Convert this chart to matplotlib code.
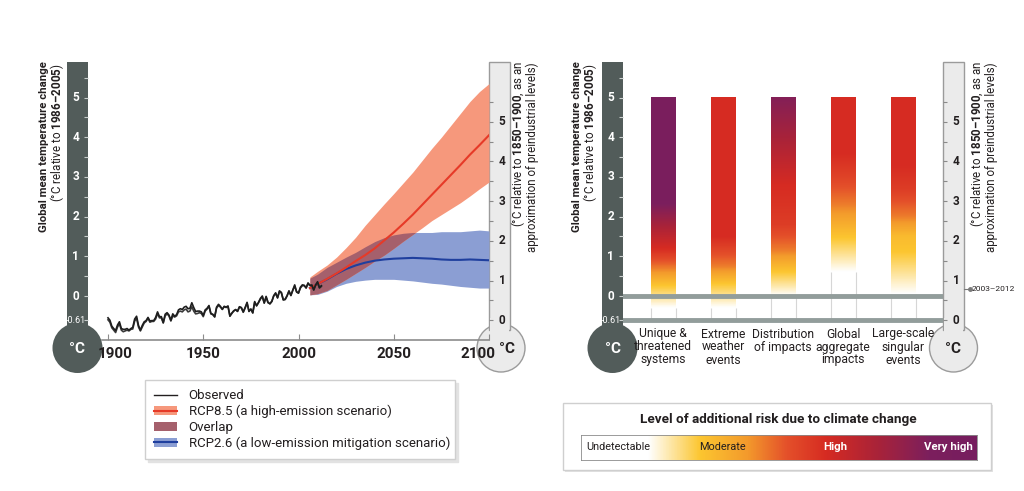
import numpy as np
import matplotlib
matplotlib.use('Agg')
import matplotlib.pyplot as plt
from matplotlib.colors import LinearSegmentedColormap
from matplotlib.patches import Rectangle, Circle, Patch
from matplotlib.lines import Line2D
from matplotlib.legend_handler import HandlerTuple
from matplotlib.transforms import ScaledTranslation

# ---------------- data ----------------
obs_years = np.arange(1900, 2013)
obs_a = [-0.55, -0.61, -0.76, -0.82, -0.87, -0.73, -0.65, -0.82, -0.84, -0.84,
         -0.82, -0.86, -0.82, -0.79, -0.58, -0.51, -0.74, -0.86, -0.74, -0.65,
         -0.62, -0.54, -0.63, -0.62, -0.62, -0.54, -0.40, -0.52, -0.52, -0.67,
         -0.46, -0.42, -0.48, -0.61, -0.45, -0.51, -0.47, -0.35, -0.32, -0.34,
         -0.28, -0.26, -0.32, -0.31, -0.17, -0.29, -0.39, -0.38, -0.38, -0.40,
         -0.49, -0.35, -0.31, -0.24, -0.44, -0.46, -0.52, -0.28, -0.21, -0.26,
         -0.34, -0.26, -0.28, -0.25, -0.51, -0.43, -0.38, -0.34, -0.39, -0.27,
         -0.29, -0.40, -0.29, -0.16, -0.39, -0.33, -0.42, -0.14, -0.25, -0.16,
         -0.06, 0.00, -0.18, -0.01, -0.16, -0.20, -0.14, 0.01, 0.08, -0.05,
         0.13, 0.09, -0.10, -0.09, 0.00, 0.13, 0.01, 0.15, 0.28, 0.10,
         0.07, 0.22, 0.28, 0.27, 0.20, 0.33, 0.27, 0.27, 0.15, 0.28,
         0.36, 0.21, 0.26]
obs_b = [-0.60, -0.66, -0.80, -0.86, -0.92, -0.78, -0.70, -0.86, -0.90, -0.88,
         -0.86, -0.88, -0.84, -0.83, -0.63, -0.56, -0.78, -0.88, -0.78, -0.68,
         -0.64, -0.56, -0.66, -0.64, -0.64, -0.58, -0.44, -0.55, -0.55, -0.68,
         -0.50, -0.45, -0.50, -0.63, -0.50, -0.53, -0.50, -0.40, -0.38, -0.40,
         -0.35, -0.33, -0.40, -0.38, -0.27, -0.38, -0.45, -0.44, -0.42, -0.44,
         -0.52, -0.38, -0.33, -0.26, -0.45, -0.47, -0.53, -0.30, -0.24, -0.28,
         -0.33, -0.27, -0.29, -0.27, -0.50, -0.44, -0.37, -0.35, -0.38, -0.28,
         -0.30, -0.41, -0.30, -0.18, -0.38, -0.33, -0.43, -0.16, -0.24, -0.17,
         -0.08, -0.02, -0.17, -0.03, -0.17, -0.19, -0.13, 0.00, 0.06, -0.04,
         0.11, 0.08, -0.09, -0.08, 0.01, 0.12, 0.02, 0.14, 0.25, 0.11,
         0.08, 0.20, 0.26, 0.26, 0.21, 0.31, 0.26, 0.28, 0.16, 0.27,
         0.33, 0.20, 0.24]

proj_years = [2006, 2010, 2015, 2020, 2025, 2030, 2035, 2040, 2045, 2050,
              2055, 2060, 2065, 2070, 2075, 2080, 2085, 2090, 2095, 2100]
rcp85_mean = [0.20, 0.30, 0.43, 0.57, 0.72, 0.88, 1.03, 1.20, 1.40, 1.60,
              1.82, 2.05, 2.30, 2.55, 2.80, 3.05, 3.30, 3.56, 3.80, 4.05]
rcp85_low = [0.03, 0.06, 0.14, 0.28, 0.42, 0.57, 0.72, 0.88, 1.03, 1.20,
             1.38, 1.55, 1.72, 1.90, 2.05, 2.20, 2.35, 2.52, 2.70, 2.87]
rcp85_high = [0.48, 0.62, 0.78, 0.98, 1.22, 1.48, 1.78, 2.05, 2.32, 2.58,
              2.85, 3.12, 3.42, 3.72, 4.00, 4.30, 4.60, 4.90, 5.15, 5.35]
rcp26_mean = [0.20, 0.30, 0.42, 0.56, 0.68, 0.77, 0.84, 0.89, 0.92, 0.94,
              0.95, 0.96, 0.95, 0.94, 0.92, 0.91, 0.91, 0.92, 0.91, 0.90]
rcp26_low = [0.03, 0.04, 0.12, 0.24, 0.32, 0.37, 0.40, 0.42, 0.42, 0.42,
             0.40, 0.38, 0.35, 0.32, 0.30, 0.27, 0.24, 0.22, 0.20, 0.20]
rcp26_high = [0.45, 0.55, 0.72, 0.85, 0.98, 1.10, 1.24, 1.37, 1.47, 1.54,
              1.58, 1.60, 1.60, 1.60, 1.62, 1.62, 1.62, 1.64, 1.66, 1.64]

year_ticks = [1900, 1950, 2000, 2050, 2100]
scale_ticks = [0, 1, 2, 3, 4, 5]
preind_offset = 0.61          # 1850-1900 relative to 1986-2005
recent_2003_2012 = 0.78       # relative to 1850-1900

systems = ['Unique &\nthreatened\nsystems', 'Extreme\nweather\nevents',
           'Distribution\nof impacts', 'Global\naggregate\nimpacts',
           'Large-scale\nsingular\nevents']
# temperature (rel. 1986-2005) where risk level reached: 0 undetectable .. 3 very high
risk_temps = [[-0.30, 0.25, 0.70, 1.20, 2.40],
              [-0.30, 0.30, 0.75, 1.50],
              [0.00, 0.60, 1.15, 1.80, 2.80, 3.80, 5.00],
              [0.60, 1.45, 2.30, 3.00, 3.60],
              [0.05, 1.10, 1.50, 2.00, 2.70, 3.30]]
risk_levels = [[0, 1, 1.5, 2, 3],
               [0, 1, 1.5, 2],
               [0, 1, 1.5, 1.85, 2, 2.4, 2.85],
               [0, 1, 1.5, 1.8, 2],
               [0, 1, 1.1, 1.5, 1.85, 2]]
bar_top = 5

# ---------------- style ----------------
FAMILY = 'Roboto'
plt.rcParams['font.family'] = [FAMILY, 'DejaVu Sans']
plt.rcParams['mathtext.fontset'] = 'custom'
plt.rcParams['mathtext.rm'] = FAMILY
plt.rcParams['mathtext.bf'] = FAMILY + ':bold'
plt.rcParams['mathtext.it'] = FAMILY

TXT = '#231f20'
DARK = '#525c5a'
LIGHT = '#ebebeb'
EDGE = '#9b9b9b'
GRAYLINE = '#929d9b'
RED_BAND = '#f6987c'
RED_LINE = '#e63a28'
BLUE_BAND = '#8b9ed3'
BLUE_LINE = '#1f3f9e'
OVERLAP = '#a5606c'

risk_cmap = LinearSegmentedColormap.from_list('risk', [
    (0.0, '#ffffff'), (0.17, '#ffffff'), (0.30, '#fcc630'), (0.42, '#f39a2c'),
    (0.52, '#e4502a'), (0.62, '#d62b22'), (0.75, '#a92339'), (0.88, '#7c1f5d'),
    (1.0, '#761d5f')])
level_pos = [0.17, 0.30, 0.62, 0.90]

W, H = 1024, 491
Y0PX, PPD, TOP, BOT = 296, 39.7, 62, 340
YLIM = ((Y0PX - BOT) / PPD, (Y0PX - TOP) / PPD)

fig = plt.figure(figsize=(W / 100, H / 100), dpi=100)


def fax(x0, y0, x1, y1):
    return fig.add_axes([x0 / W, 1 - y1 / H, (x1 - x0) / W, (y1 - y0) / H])


deco = fax(0, 0, W, H)
deco.set_xlim(0, W)
deco.set_ylim(H, 0)
deco.axis('off')


def thermometer(x0, dark, bulb_x=None, unit_dx=0):
    xc = x0 + 10.5 if bulb_x is None else bulb_x
    if dark:
        deco.add_patch(Rectangle((x0, TOP), 21, 348 - TOP, fc=DARK, ec='none'))
        deco.add_patch(Circle((xc, 348), 25, fc=DARK, ec='none'))
        deco.text(xc, 349, '°C', color='white', fontsize=11, fontweight='bold',
                  ha='center', va='center')
    else:
        deco.add_patch(Circle((xc, 348), 24, fc=LIGHT, ec=EDGE, lw=1))
        deco.add_patch(Rectangle((x0, TOP), 21, 330 - TOP, fc=LIGHT, ec=EDGE, lw=1))
        deco.add_patch(Rectangle((x0 + 0.7, 318), 19.6, 16, fc=LIGHT, ec='none'))
        deco.text(xc + unit_dx, 349, '°C', color=TXT, fontsize=11, fontweight='bold',
                  ha='center', va='center')
    t = fax(x0, TOP, x0 + 21, BOT)
    t.patch.set_alpha(0)
    t.set_xticks([])
    for s in t.spines.values():
        s.set_visible(False)
    tick_col = '#c9cecd' if dark else '#8a8a8a'
    if dark:
        t.set_ylim(YLIM)
        t.yaxis.tick_right()
        t.set_yticks([-preind_offset] + scale_ticks)
    else:
        t.set_ylim(YLIM[0] + preind_offset, YLIM[1] + preind_offset)
        t.yaxis.tick_left()
        t.set_yticks(scale_ticks)
    t.set_yticks([v + 0.5 for v in scale_ticks], minor=True)
    t.tick_params(axis='y', which='both', direction='in', length=3, width=0.8,
                  colors=tick_col, labelleft=False, labelright=False)
    lab_x, lab_col = (0.42, 'white') if dark else (0.62, TXT)
    for v in scale_ticks:
        t.text(lab_x, v, str(v), transform=t.get_yaxis_transform(), color=lab_col,
               fontsize=8.5, fontweight='bold', ha='center', va='center')
    if dark:
        t.text(0.40, -preind_offset, '-0.61', transform=t.get_yaxis_transform(),
               color='white', fontsize=6.5, ha='center', va='center')
    return t


def left_label(x, y=61):
    deco.text(x, y, 'Global mean temperature change', rotation=90, ha='center',
              va='top', fontsize=8.2, fontweight='bold', color=TXT)
    deco.text(x + 13, y + 2, r'(°C relative to $\mathbf{1986–2005}$)', rotation=90,
              ha='center', va='top', fontsize=8.4, color=TXT)


def right_label(x, y=61):
    deco.text(x, y, r'(°C relative to $\mathbf{1850–1900}$, as an', rotation=90,
              ha='center', va='top', fontsize=8.3, color=TXT)
    deco.text(x + 14, y + 1, 'approximation of preindustrial levels)', rotation=90,
              ha='center', va='top', fontsize=8.3, color=TXT)


# ---------------- left panel ----------------
thermometer(67, True)
thermometer(489, False, bulb_x=501, unit_dx=6)
left_label(44)
right_label(518)

ax1 = fax(102, TOP, 489, BOT)
ax1.patch.set_alpha(0)
ax1.fill_between(proj_years, rcp26_low, rcp26_high, color=BLUE_BAND, lw=0)
ax1.fill_between(proj_years, rcp85_low, rcp85_high, color=RED_BAND, lw=0)
lo = np.maximum(rcp26_low, rcp85_low)
hi = np.minimum(rcp26_high, rcp85_high)
ax1.fill_between(proj_years, lo, hi, where=hi > lo, interpolate=True, color=OVERLAP, lw=0)
ax1.plot(proj_years, rcp26_mean, color=BLUE_LINE, lw=1.5)
ax1.plot(proj_years, rcp85_mean, color=RED_LINE, lw=1.5)
ax1.plot(obs_years, obs_b, color='#3a3a3a', lw=1.2)
ax1.plot(obs_years, obs_a, color='#1e1e1e', lw=1.2)
ax1.set_xlim(1896.85, 2100)
ax1.set_ylim(YLIM)
for s in ['top', 'left', 'right']:
    ax1.spines[s].set_visible(False)
ax1.spines['bottom'].set_color('#8c8c8c')
ax1.spines['bottom'].set_linewidth(1.2)
ax1.set_yticks([])
ax1.set_xticks(year_ticks)
ax1.tick_params(axis='x', direction='in', length=4, color='#8c8c8c', pad=5,
                labelsize=11, labelcolor=TXT)
xlabs = ax1.get_xticklabels()
for lab in xlabs:
    lab.set_fontweight('bold')
xlabs[0].set_transform(xlabs[0].get_transform() + ScaledTranslation(0.07, 0, fig.dpi_scale_trans))
xlabs[-1].set_transform(xlabs[-1].get_transform() + ScaledTranslation(-0.11, 0, fig.dpi_scale_trans))

handles = [Line2D([], [], color=TXT, lw=1),
           (Patch(fc=RED_BAND), Line2D([], [], color=RED_LINE, lw=1.5)),
           Patch(fc=OVERLAP),
           (Patch(fc=BLUE_BAND), Line2D([], [], color=BLUE_LINE, lw=1.5))]
labels = ['Observed', 'RCP8.5 (a high-emission scenario)', 'Overlap',
          'RCP2.6 (a low-emission mitigation scenario)']
leg = fig.legend(handles, labels, handler_map={tuple: HandlerTuple(ndivide=1)},
                 loc='upper left', bbox_to_anchor=(145 / W, 1 - 472 / H, 310 / W, 92 / H),
                 mode='expand', fontsize=9.5, frameon=True, fancybox=False,
                 edgecolor='#cfcfcf', framealpha=1, borderpad=0.7, labelspacing=0.2,
                 handlelength=1.7, handletextpad=0.9, borderaxespad=0,
                 shadow={'color': '#e2e2e2', 'alpha': 1})
for txt in leg.get_texts():
    txt.set_color(TXT)

# ---------------- right panel ----------------
thermometer(602, True)
thermometer(943, False)
left_label(577)
right_label(977)

ax2 = fax(623, TOP, 943, BOT)
ax2.patch.set_alpha(0)
bar_w = 25 / 60
for i, (temps, levels) in enumerate(zip(risk_temps, risk_levels)):
    yy = np.linspace(temps[0], bar_top, 400)
    t = np.interp(np.interp(yy, temps, levels), [0, 1, 2, 3], level_pos)
    rgb = risk_cmap(t)[:, None, :]
    ax2.imshow(rgb, extent=[i - bar_w / 2, i + bar_w / 2, temps[0], bar_top],
               origin='lower', aspect='auto', interpolation='bilinear', zorder=2)
    ax2.vlines([i - bar_w / 2, i + bar_w / 2], -preind_offset, temps[0],
               color='#d6d6d6', lw=0.8, zorder=1)
ax2.axhline(0, color=GRAYLINE, lw=3.5, zorder=3)
ax2.axhline(-preind_offset, color=GRAYLINE, lw=3.5, zorder=3)
ax2.set_xlim(-40 / 60, 4 + 40 / 60)
ax2.set_ylim(YLIM)
for s in ax2.spines.values():
    s.set_visible(False)
ax2.set_yticks([])
ax2.set_xticks(range(len(systems)), systems)
ax2.tick_params(axis='x', length=0, pad=-9, labelsize=8.7, labelcolor=TXT)
for lab in ax2.get_xticklabels():
    lab.set_verticalalignment('top')
    lab.set_linespacing(1.0)

# 2003-2012 marker, read on the preindustrial scale
mark_y = Y0PX - (recent_2003_2012 - preind_offset) * PPD
deco.plot([964, 970], [mark_y, mark_y], color='#7a7a7a', lw=0.8)
deco.plot([970], [mark_y], 'o', color='#7a7a7a', ms=2.5)
deco.text(972, mark_y, '2003–2012', fontsize=6, color=TXT, va='center', ha='left')

# ---------------- risk legend ----------------
deco.add_patch(Rectangle((565, 405), 428, 67, fc='#e2e2e2', ec='none'))
deco.add_patch(Rectangle((563, 403), 428, 67, fc='white', ec='#cfcfcf', lw=1))
deco.text(778, 419, 'Level of additional risk due to climate change', fontsize=9.7,
          fontweight='bold', color=TXT, ha='center', va='center')
cb = fax(581, 435, 977, 460)
cb.imshow(np.linspace(0, 1, 512)[None, :], cmap=risk_cmap, aspect='auto',
          extent=[0, 1, 0, 1])
cb.set_xticks([])
cb.set_yticks([])
for s in cb.spines.values():
    s.set_color('#8a8a8a')
    s.set_linewidth(0.6)
cb.text(0.012, 0.5, 'Undetectable', fontsize=7.8, color=TXT, ha='left', va='center',
        transform=cb.transAxes)
cb.text(0.356, 0.5, 'Moderate', fontsize=7.8, color=TXT, ha='center', va='center',
        transform=cb.transAxes)
cb.text(0.641, 0.5, 'High', fontsize=8.2, color='white', fontweight='bold',
        ha='center', va='center', transform=cb.transAxes)
cb.text(0.99, 0.5, 'Very high', fontsize=8.2, color='white', fontweight='bold',
        ha='right', va='center', transform=cb.transAxes)

fig.savefig('out.png', dpi=100)
